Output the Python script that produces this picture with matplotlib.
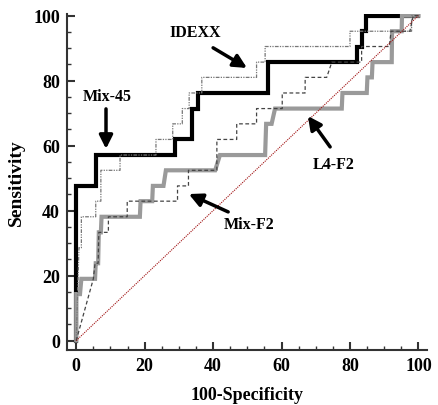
import matplotlib
matplotlib.use('Agg')
import matplotlib.pyplot as plt
from matplotlib.ticker import MultipleLocator

# ROC curves (x = 100-Specificity, y = Sensitivity)
mix45_x = [0, 0, 5.7, 5.7, 28.9, 28.9, 33.7, 33.7, 35.7, 35.7, 56.1, 56.1,
           82.0, 82.0, 83.4, 83.4, 84.7, 84.7, 100]
mix45_y = [0, 47.6, 47.6, 57.1, 57.1, 61.9, 61.9, 71.4, 71.4, 76.2, 76.2, 85.7,
           85.7, 90.5, 90.5, 95.2, 95.2, 100, 100]

l4f2_x = [0, 0, 1.1, 1.5, 5.5, 5.7, 6.4, 6.6, 7.2, 7.4, 18.6, 18.8, 22.2, 22.4,
          25.5, 26.2, 40.6, 42.0, 55.2, 55.5, 57.1, 58.1, 77.6, 77.8, 84.9, 85.1,
          86.4, 86.6, 92.2, 92.3, 95.1, 95.2, 100]
l4f2_y = [0, 14.3, 14.3, 19.0, 19.0, 23.8, 23.8, 33.3, 33.3, 38.1, 38.1, 42.9,
          42.9, 47.6, 47.6, 52.4, 52.4, 57.1, 57.1, 66.7, 66.7, 71.4, 71.4, 76.2,
          76.2, 81.0, 81.0, 85.7, 85.7, 95.2, 95.2, 100, 100]

idexx_x = [0, 0.8, 1.5, 1.5, 5.7, 5.7, 7.2, 7.2, 12.8, 12.8, 23.3, 23.3, 28.2,
           28.2, 31.0, 31.0, 33.0, 33.0, 36.7, 36.7, 52.7, 52.7, 55.2, 55.2,
           80.0, 80.0, 98.0, 98.0, 100]
idexx_y = [0, 28.6, 28.6, 38.1, 38.1, 42.9, 42.9, 52.4, 52.4, 57.1, 57.1, 61.9,
           61.9, 66.7, 66.7, 71.4, 71.4, 76.2, 76.2, 81.0, 81.0, 85.7, 85.7, 90.5,
           90.5, 95.2, 95.2, 100, 100]

mixf2_x = [0, 5.0, 5.5, 6.4, 6.6, 9.4, 9.4, 14.9, 14.9, 29.6, 29.6, 32.8, 32.8,
           41.1, 41.1, 46.9, 46.9, 52.7, 52.7, 60.2, 60.2, 66.9, 66.9, 73.2, 74.7,
           83.4, 83.4, 91.5, 92.0, 97.5, 98.5, 100]
mixf2_y = [0, 19.0, 23.8, 23.8, 33.3, 33.3, 38.1, 38.1, 42.9, 42.9, 47.6, 47.6,
           52.4, 52.4, 61.9, 61.9, 66.7, 66.7, 71.4, 71.4, 76.2, 76.2, 81.0, 81.0,
           85.7, 85.7, 90.5, 90.5, 95.2, 95.2, 100, 100]

diag = [0, 100]

# labels: (text, text position, arrow tail, arrow head)
labels = ['IDEXX', 'Mix-45', 'L4-F2', 'Mix-F2']
label_pos = [(34.7, 95.0), (9.0, 75.3), (75.1, 54.4), (50.5, 35.9)]
arrow_tail = [(40.0, 90.1), (8.7, 71.3), (74.2, 59.6), (44.4, 39.6)]
arrow_head = [(49.9, 83.9), (8.7, 59.0), (67.7, 69.1), (32.9, 45.1)]

plt.rcParams['font.family'] = ['Liberation Serif', 'DejaVu Serif']
plt.rcParams['font.weight'] = 'bold'

fig = plt.figure(figsize=(4.39, 4.06), dpi=100)
ax = fig.add_axes([0.1526, 0.1355, 0.82, 0.8275])

ax.plot(mix45_x, mix45_y, color='black', lw=3, solid_joinstyle='miter', zorder=2)
ax.plot(l4f2_x, l4f2_y, color='#9a9a9a', lw=3, solid_joinstyle='miter', zorder=3)
ax.plot(idexx_x, idexx_y, color='#777777', lw=0.9,
        linestyle=(0, (3, 1, 1, 1, 1, 1)), zorder=4)
ax.plot(mixf2_x, mixf2_y, color='#444444', lw=0.9,
        linestyle=(0, (3, 2)), zorder=4)
ax.plot(diag, diag, color='#a01010', lw=0.8, linestyle=(0, (1, 1)), zorder=5)

for txt, pos, tail, head in zip(labels, label_pos, arrow_tail, arrow_head):
    ax.text(pos[0], pos[1], txt, fontsize=11.5, fontweight='bold',
            ha='center', va='center')
    ax.annotate('', xy=head, xytext=tail,
                arrowprops=dict(arrowstyle='-|>,head_width=0.4,head_length=0.8',
                                color='black', lw=2.5, shrinkA=0, shrinkB=0),
                zorder=6)

ax.set_xlim(-2.7, 102.5)
ax.set_ylim(-2.9, 100.5)
ax.xaxis.set_major_locator(MultipleLocator(20))
ax.xaxis.set_minor_locator(MultipleLocator(5))
ax.yaxis.set_major_locator(MultipleLocator(20))
ax.yaxis.set_minor_locator(MultipleLocator(5))

for side in ['top', 'right']:
    ax.spines[side].set_visible(False)
for side in ['left', 'bottom']:
    ax.spines[side].set_color('#333333')
    ax.spines[side].set_linewidth(1.5)

ax.tick_params(which='major', direction='in', length=6, width=1.5,
               color='#333333', labelsize=13, pad=5)
ax.tick_params(which='minor', direction='in', length=3, width=1,
               color='#333333')
for lab in ax.get_xticklabels() + ax.get_yticklabels():
    lab.set_fontweight('bold')

ax.set_xlabel('100-Specificity', fontsize=13, fontweight='bold', labelpad=9)
ax.set_ylabel('Sensitivity', fontsize=14, fontweight='bold', labelpad=6)

fig.savefig('out.png', dpi=100)
